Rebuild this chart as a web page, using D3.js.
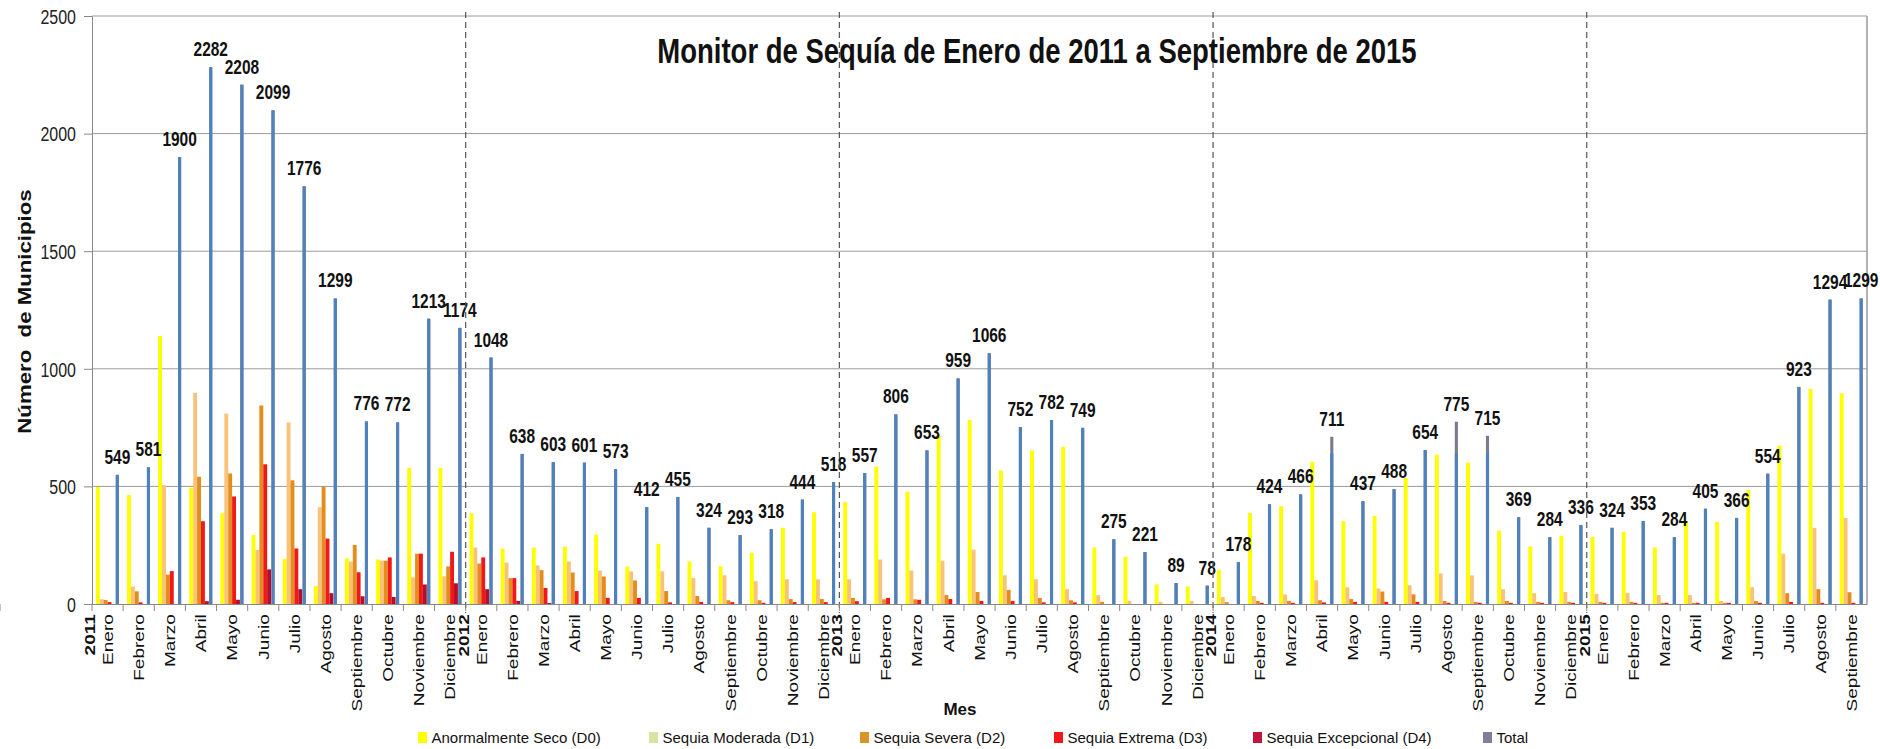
<!DOCTYPE html>
<html><head><meta charset="utf-8">
<script src="https://cdn.jsdelivr.net/npm/d3@7"></script>
<style>
html,body{margin:0;padding:0;background:#fff;}
svg{display:block;font-family:"Liberation Sans",Arial,Helvetica,sans-serif;}
</style></head><body>
<svg id="chart" width="1880" height="749"></svg>
<script>
// ---------------- DATA ----------------
const monthNames = ["Enero","Febrero","Marzo","Abril","Mayo","Junio","Julio","Agosto","Septiembre","Octubre","Noviembre","Diciembre"];
const years = ["2011","2012","2013","2014","2015"];
const seriesNames = ["Anormalmente Seco (D0)","Sequia Moderada (D1)","Sequia Severa (D2)","Sequia Extrema (D3)","Sequia Excepcional (D4)","Total"];

const d0 = [497,463,1140,495,386,293,192,76,194,189,579,579,
            386,235,240,245,295,159,256,181,160,218,324,390,
            433,584,477,720,782,568,653,668,240,201,83,75,
            144,387,416,604,352,374,536,635,601,312,245,290,
            285,307,240,352,349,485,673,915,896];
const d1 = [20,74,505,898,810,230,772,411,180,184,113,118,
            240,176,164,181,142,139,139,110,122,97,105,105,
            105,189,142,184,231,122,105,63,38,13,9,13,
            30,34,41,101,71,66,80,130,122,63,46,51,
            43,46,38,38,13,71,214,324,366];
const d2 = [17,54,125,541,555,844,526,498,251,184,214,160,
            172,110,144,134,117,100,55,34,16,16,21,21,
            26,20,20,38,51,60,26,16,9,0,0,0,
            8,13,13,16,21,53,41,13,9,13,9,9,
            9,9,5,5,5,13,46,63,50];
const d3v = [8,7,140,352,457,594,236,278,135,198,214,222,
            198,110,68,55,26,26,7,9,8,5,8,8,
            12,26,18,21,13,13,7,7,0,0,0,0,
            0,5,5,7,9,9,9,5,5,5,5,5,
            5,5,5,5,5,5,9,5,5];
const d4 = [0,0,0,12,18,147,63,46,33,30,83,88,
            63,13,4,0,0,0,0,0,0,0,0,0,
            0,0,0,0,0,0,0,0,0,0,0,0,
            0,0,0,0,0,0,0,0,0,0,0,0,
            0,0,0,0,0,0,0,0,0];
const totals = [549,581,1900,2282,2208,2099,1776,1299,776,772,1213,1174,
                1048,638,603,601,573,412,455,324,293,318,444,518,
                557,806,653,959,1066,752,782,749,275,221,89,78,
                178,424,466,711,437,488,654,775,715,369,284,336,
                324,353,284,405,366,554,923,1294,1299];
// blue part of the Total column (grey part shows above it in three months)
const totalsBlue = [549,581,1900,2282,2208,2099,1776,1299,776,772,1213,1174,
                1048,638,603,601,573,412,455,324,293,318,444,518,
                557,806,653,959,1066,752,782,749,275,221,89,78,
                178,424,466,640,437,488,654,640,640,369,284,336,
                324,353,284,405,366,554,923,1294,1299];
const yTicks = [0,500,1000,1500,2000,2500];
const chartTitle = "Monitor de Sequía de Enero de 2011 a Septiembre de 2015";
const yTitle = "Número  de Municipios";
const xTitle = "Mes";

// ---------------- STYLE ----------------
const barColors = ["#FFFF00","#F9C27A","#E38D1F","#F01818","#B30F2A"];
const blueColor = "#4F81BD", greyColor = "#7A7A8E";
const legendColors = ["#FFFF00","#D6E3A2","#D8962A","#F01818","#C0143C","#7F7F99"];
const legendX = [418, 649, 860, 1054, 1253, 1483];
const K = 1.27; // vertical stretch of text

const svg = d3.select("#chart");
const L = 92, R = 1867, T = 16, B = 604;
const n = totals.length;
const categories = d3.range(n).map(i => ({month: monthNames[i % 12], year: i % 12 === 0 ? years[i / 12] : null}));

const p = 0.2485;
const x = d3.scaleBand().domain(d3.range(n)).range([L, R]).paddingInner(p).paddingOuter(p / 2);
const keys = [0,1,2,3,4,5];
const x1 = d3.scaleBand().domain(keys).range([0, x.bandwidth()]);
const y = d3.scaleLinear().domain([0, 2500]).range([B, T]);
const boundary = i => x(i) - x.step() * p / 2;

// gridlines
svg.append("g").selectAll("line").data(yTicks.filter(d => d > 0)).join("line")
  .attr("x1", L).attr("x2", R).attr("y1", d => y(d)).attr("y2", d => y(d))
  .attr("stroke", "#9a9a9a").attr("stroke-width", 1);

// right border
svg.append("line").attr("x1", R).attr("x2", R).attr("y1", y(2500)).attr("y2", y(0))
  .attr("stroke", "#9a9a9a").attr("stroke-width", 1.5);

// bars D0..D4
const seriesVals = [d0, d1, d2, d3v, d4];
seriesVals.forEach((vals, s) => {
  svg.append("g").selectAll("rect").data(vals).join("rect")
    .attr("x", (v, i) => x(i) + x1(s))
    .attr("y", v => y(v))
    .attr("width", x1.bandwidth())
    .attr("height", v => y(0) - y(v))
    .attr("fill", barColors[s]);
});
// total bars: grey then blue part
svg.append("g").selectAll("rect").data(totals).join("rect")
  .attr("x", (v, i) => x(i) + x1(5) + 0.4).attr("y", v => y(v))
  .attr("width", x1.bandwidth() - 0.8).attr("height", v => y(0) - y(v)).attr("fill", greyColor);
svg.append("g").selectAll("rect").data(totalsBlue).join("rect")
  .attr("x", (v, i) => x(i) + x1(5) + 0.4).attr("y", v => y(v))
  .attr("width", x1.bandwidth() - 0.8).attr("height", v => y(0) - y(v)).attr("fill", blueColor);

// total labels
svg.append("g").selectAll("text").data(totals).join("text")
  .attr("transform", (v, i) => `translate(${x(i) + x1(5) + x1.bandwidth() / 2},${y(v) - 11}) scale(1,${K})`)
  .attr("text-anchor", "middle").style("font-size", "15.5px").style("font-weight", "bold")
  .attr("fill", "#111").text(v => v);

// year dashed lines
svg.append("g").selectAll("line").data([12, 24, 36, 48]).join("line")
  .attr("x1", d => boundary(d)).attr("x2", d => boundary(d))
  .attr("y1", 12).attr("y2", 613)
  .attr("stroke", "#555").attr("stroke-width", 1.2).attr("stroke-dasharray", "6,4");

// y axis
const gy = svg.append("g").attr("transform", `translate(${L},0)`)
  .call(d3.axisLeft(y).tickValues(yTicks).tickFormat(d3.format("d")).tickSize(8).tickPadding(8));
gy.select(".domain").attr("stroke", "#888");
gy.selectAll(".tick line").attr("stroke", "#888");
gy.selectAll(".tick text").style("font-size", "16px").attr("fill", "#222")
  .attr("dy", "0.36em").attr("transform", `scale(1,${K})`)
  .style("font-family", "'Liberation Sans',Arial,sans-serif");

// x axis
const gx = svg.append("g").attr("transform", `translate(0,${y(0)})`)
  .call(d3.axisBottom(x).tickSize(0).tickPadding(0).tickFormat(i => categories[i].month));
gx.select(".domain").attr("stroke", "#888");
gx.selectAll(".tick text").each(function(i) {
  const t = d3.select(this);
  t.text(null).attr("y", 0).attr("x", -8).attr("dy", null)
    .attr("text-anchor", "end").attr("transform", `scale(1,${K}) rotate(-90)`)
    .style("font-size", "15px").style("font-family", "'Liberation Sans',Arial,sans-serif").attr("fill", "#111");
  if (categories[i].year) {
    t.append("tspan").attr("x", -8).attr("dy", "-0.85em").style("font-weight", "bold").text(categories[i].year);
    t.append("tspan").attr("x", -8).attr("dy", "1.2em").text(categories[i].month);
  } else {
    t.append("tspan").attr("x", -8).attr("dy", "0.35em").text(categories[i].month);
  }
});
// boundary tick marks
svg.append("g").selectAll("line").data(d3.range(n + 1)).join("line")
  .attr("x1", d => boundary(d)).attr("x2", d => boundary(d))
  .attr("y1", y(0)).attr("y2", y(0) + 7).attr("stroke", "#888");

// title
svg.append("text").attr("transform", `translate(1037,62.5) scale(1,${K})`)
  .attr("text-anchor", "middle").style("font-size", "27.5px").style("font-weight", "bold")
  .attr("fill", "#111").text(chartTitle);

// y title
svg.append("text").attr("transform", `translate(25,311.5) scale(1,${K}) rotate(-90)`)
  .attr("text-anchor", "middle").attr("dy", "0.35em").style("font-size", "17.5px").style("font-weight", "bold")
  .attr("fill", "#111").style("white-space", "pre").text(yTitle);

// x title
svg.append("text").attr("x", 960).attr("y", 715).attr("text-anchor", "middle")
  .style("font-size", "17px").style("font-weight", "bold").attr("fill", "#111").text(xTitle);

// legend
const items = svg.append("g").selectAll("g").data(seriesNames).join("g")
  .attr("transform", (d, i) => `translate(${legendX[i]},0)`);
items.append("rect").attr("x", 0).attr("y", 732).attr("width", 9).attr("height", 11)
  .attr("fill", (d, i) => legendColors[i]);
items.append("text").attr("x", 13.5).attr("y", 743).style("font-size", "15px").attr("fill", "#111").text(d => d);
</script>
</body></html>
